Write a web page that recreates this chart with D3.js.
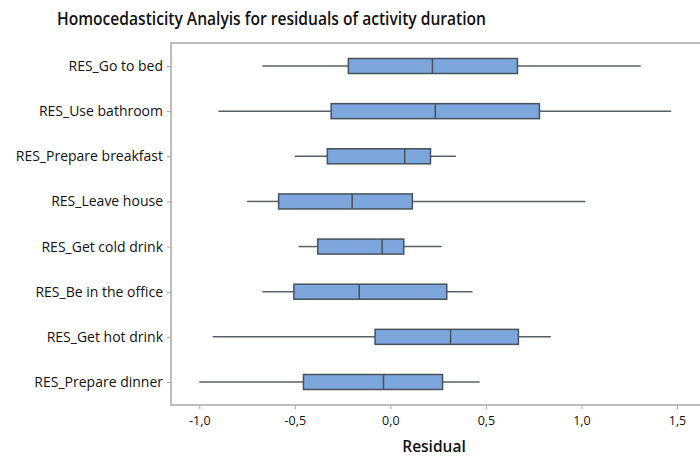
<!DOCTYPE html>
<html>
<head>
<meta charset="utf-8">
<script src="https://cdn.jsdelivr.net/npm/d3@7"></script>
<style>
  html, body { margin: 0; padding: 0; background: #fff; }
  svg { display: block; }
  text { font-family: "Open Sans", "Noto Sans", sans-serif; fill: #111; }
</style>
</head>
<body>
<svg id="chart" width="700" height="458"></svg>
<script>
// Residual categories (top to bottom)
const categories = [
  "RES_Go to bed",
  "RES_Use bathroom",
  "RES_Prepare breakfast",
  "RES_Leave house",
  "RES_Get cold drink",
  "RES_Be in the office",
  "RES_Get hot drink",
  "RES_Prepare dinner"
];
// Five-number summaries per category
const whiskerLow  = [-0.67, -0.90, -0.50, -0.75, -0.48, -0.67, -0.93, -1.00];
const q1          = [-0.22, -0.31, -0.33, -0.585, -0.38, -0.505, -0.08, -0.455];
const median      = [ 0.22,  0.235, 0.075, -0.20, -0.043, -0.163, 0.315, -0.036];
const q3          = [ 0.665, 0.78,  0.21,  0.115,  0.07,  0.295, 0.67,  0.273];
const whiskerHigh = [ 1.31,  1.47,  0.343, 1.02,   0.268, 0.43,  0.84,  0.467];
const xTicks = [-1.0, -0.5, 0.0, 0.5, 1.0, 1.5];

const rows = categories.map((c, i) => ({
  name: c, lo: whiskerLow[i], q1: q1[i], med: median[i], q3: q3[i], hi: whiskerHigh[i]
}));

const svg = d3.select("#chart");
const frame = { left: 171, top: 43, right: 702, bottom: 405 };

const x = d3.scaleLinear().domain([-1.0, 1.5]).range([199.3, 677]);
const y = d3.scalePoint().domain(categories).range([66, 382]);

// Title
svg.append("text")
  .attr("x", 57).attr("y", 25)
  .attr("textLength", 429).attr("lengthAdjust", "spacingAndGlyphs")
  .style("font-size", "18px").style("font-weight", 600)
  .text("Homocedasticity Analyis for residuals of activity duration");

// Plot frame
svg.append("rect")
  .attr("x", frame.left).attr("y", frame.top)
  .attr("width", frame.right - frame.left).attr("height", frame.bottom - frame.top)
  .attr("fill", "#fff").attr("stroke", "#a8a8a8").attr("stroke-width", 1.5);

// X axis
const xAxis = d3.axisBottom(x).tickValues(xTicks).tickSize(4).tickPadding(7)
  .tickFormat(d => d3.format(".1f")(d).replace(".", ",").replace("−", "-"));
const gx = svg.append("g").attr("transform", `translate(0,${frame.bottom})`).call(xAxis);
gx.select(".domain").remove();
gx.selectAll(".tick line").attr("stroke", "#a8a8a8");
gx.selectAll(".tick text").style("font-size", "12.5px").style("font-family", "'Open Sans', sans-serif").attr("fill", "#111");

// Y axis
const yAxis = d3.axisLeft(y).tickSize(4).tickPadding(4);
const gy = svg.append("g").attr("transform", `translate(${frame.left},0)`).call(yAxis);
gy.select(".domain").remove();
gy.selectAll(".tick line").attr("stroke", "#a8a8a8");
gy.selectAll(".tick text").style("font-size", "14px").style("font-family", "'Open Sans', sans-serif").attr("fill", "#111");

// X axis title
svg.append("text")
  .attr("x", 434).attr("y", 452)
  .attr("text-anchor", "middle")
  .style("font-size", "15.5px").style("font-weight", 600)
  .text("Residual");

// Boxes
const boxH = 15;
const g = svg.append("g").selectAll("g").data(rows).join("g");

g.append("line")
  .attr("x1", d => x(d.lo)).attr("x2", d => x(d.q1))
  .attr("y1", d => y(d.name)).attr("y2", d => y(d.name))
  .attr("stroke", "#5a5f66").attr("stroke-width", 1.5);
g.append("line")
  .attr("x1", d => x(d.q3)).attr("x2", d => x(d.hi))
  .attr("y1", d => y(d.name)).attr("y2", d => y(d.name))
  .attr("stroke", "#5a5f66").attr("stroke-width", 1.5);
g.append("rect")
  .attr("x", d => x(d.q1)).attr("width", d => x(d.q3) - x(d.q1))
  .attr("y", d => y(d.name) - boxH / 2).attr("height", boxH)
  .attr("fill", "#7da7dc").attr("stroke", "#48515c").attr("stroke-width", 1.5);
g.append("line")
  .attr("x1", d => x(d.med)).attr("x2", d => x(d.med))
  .attr("y1", d => y(d.name) - boxH / 2).attr("y2", d => y(d.name) + boxH / 2)
  .attr("stroke", "#48515c").attr("stroke-width", 1.5);
</script>
</body>
</html>
